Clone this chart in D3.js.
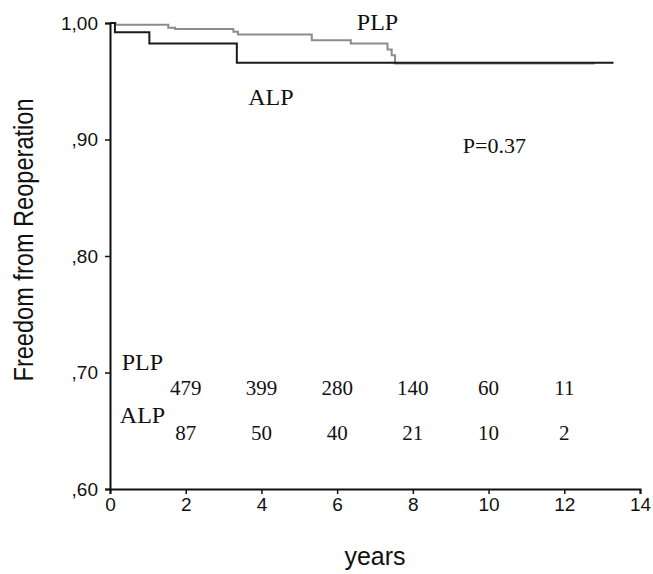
<!DOCTYPE html>
<html>
<head>
<meta charset="utf-8">
<script src="https://cdn.jsdelivr.net/npm/d3@7"></script>
<style>
  html, body { margin: 0; padding: 0; background: #fff; }
  svg { display: block; }
</style>
</head>
<body>
<svg id="chart" width="653" height="574"></svg>
<script>
// ---- Data ----
const plpTimes = [0, 0.15, 1.54, 1.72, 3.26, 3.38, 5.33, 6.36, 7.33, 7.44, 7.53, 12.8];
const plpSurv  = [1.000, 0.9985, 0.9960, 0.9948, 0.9925, 0.9902, 0.9853, 0.9825, 0.9773, 0.9724, 0.9652, 0.9652];
const alpTimes = [0, 0.13, 1.04, 3.35, 13.3];
const alpSurv  = [1.000, 0.9920, 0.9825, 0.9658, 0.9658];

const xTicks = [0, 2, 4, 6, 8, 10, 12, 14];
const yTicks = [1.0, 0.9, 0.8, 0.7, 0.6];
const yTickLabels = ["1,00", ",90", ",80", ",70", ",60"];

const riskYears = [2, 4, 6, 8, 10, 12];
const plpAtRisk = [479, 399, 280, 140, 60, 11];
const alpAtRisk = [87, 50, 40, 21, 10, 2];

const pValueText = "P=0.37";
const xTitle = "years";
const yTitle = "Freedom from Reoperation";

// ---- Layout ----
const svg = d3.select("#chart");
const x = d3.scaleLinear().domain([0, 14]).range([110, 640]);
const y = d3.scaleLinear().domain([0.6, 1.0]).range([489, 23]);

const sans = "'Liberation Sans', Arial, Helvetica, sans-serif";
const serif = "'Liberation Serif', 'Times New Roman', Times, serif";

// ---- Curves ----
function stepPoints(times, surv) {
  return times.map((t, i) => ({ t, s: surv[i] }));
}
const line = d3.line().x(d => x(d.t)).y(d => y(d.s)).curve(d3.curveStepAfter);

svg.append("path")
  .datum(stepPoints(plpTimes, plpSurv))
  .attr("d", line)
  .attr("fill", "none")
  .attr("stroke", "#8c8c8c")
  .attr("stroke-width", 2);

svg.append("path")
  .datum(stepPoints(alpTimes, alpSurv))
  .attr("d", line)
  .attr("fill", "none")
  .attr("stroke", "#1a1a1a")
  .attr("stroke-width", 2);

// ---- Axes ----
const xAxis = d3.axisBottom(x).tickValues(xTicks).tickSize(5).tickPadding(4)
  .tickFormat(d3.format("d"));
const gx = svg.append("g").attr("transform", `translate(0,${y(0.6)})`).call(xAxis);

const yAxis = d3.axisLeft(y).tickValues(yTicks).tickSize(5).tickPadding(7)
  .tickFormat((d, i) => yTickLabels[i]);
const gy = svg.append("g").attr("transform", `translate(${x(0)},0)`).call(yAxis);

[gx, gy].forEach(g => {
  g.select(".domain").attr("stroke", "#111").attr("stroke-width", 2);
  g.selectAll(".tick line").attr("stroke", "#111").attr("stroke-width", 1.5);
  g.selectAll(".tick text")
    .attr("font-family", sans)
    .attr("font-size", 19)
    .attr("fill", "#111");
});

// ---- Axis titles ----
svg.append("text")
  .attr("x", (x(0) + x(14)) / 2)
  .attr("y", 565)
  .attr("text-anchor", "middle")
  .attr("font-family", sans)
  .attr("font-size", 25)
  .attr("fill", "#111")
  .text(xTitle);

svg.append("text")
  .attr("transform", `translate(33,240) rotate(-90)`)
  .attr("text-anchor", "middle")
  .attr("font-family", sans)
  .attr("font-size", 27)
  .attr("textLength", 283)
  .attr("lengthAdjust", "spacingAndGlyphs")
  .attr("fill", "#111")
  .text(yTitle);

// ---- Annotations ----
function serifText(tx, sy, str, size, anchor) {
  svg.append("text")
    .attr("x", x(tx))
    .attr("y", y(sy))
    .attr("text-anchor", anchor || "start")
    .attr("font-family", serif)
    .attr("font-size", size)
    .attr("fill", "#111")
    .text(str);
}
serifText(6.52, 0.994, "PLP", 24);
serifText(3.65, 0.9296, "ALP", 24);
serifText(9.32, 0.8884, pValueText, 22);

// At-risk table
serifText(0.31, 0.7021, "PLP", 24);
serifText(0.26, 0.6567, "ALP", 24);
riskYears.forEach((yr, i) => {
  serifText(yr, 0.6807, String(plpAtRisk[i]), 21, "middle");
  serifText(yr, 0.6421, String(alpAtRisk[i]), 21, "middle");
});
</script>
</body>
</html>
